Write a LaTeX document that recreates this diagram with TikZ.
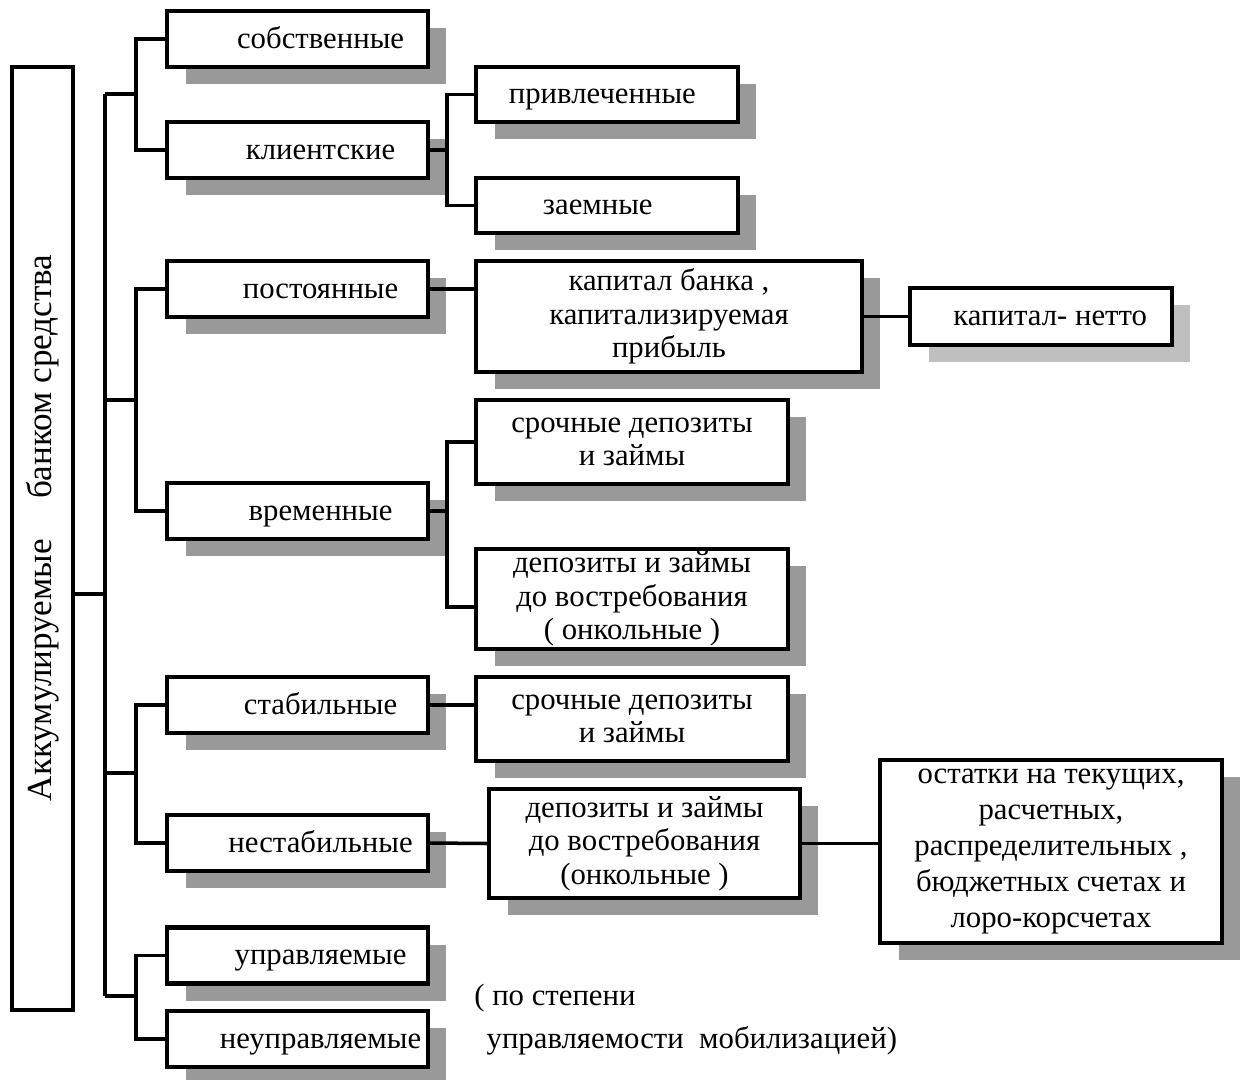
\documentclass[tikz,border=0pt]{standalone}
\usepackage{fontspec}
\setmainfont{Liberation Serif}
\usetikzlibrary{shadows}

\tikzset{
  frame/.style={draw, line width=2.5pt, fill=white, align=center, inner sep=1pt},
  box/.style={frame, drop shadow={shadow xshift=0.37cm, shadow yshift=-0.34cm, fill=black!40, opacity=1}},
  pale/.style={frame, drop shadow={shadow xshift=0.37cm, shadow yshift=-0.34cm, fill=black!25, opacity=1}},
  oneline/.style={text height=14pt, text depth=3.5pt},
  lbox/.style={box, oneline, minimum width=5.22cm, minimum height=1.12cm, execute at begin node=\hspace*{1.5em}},
  mbox/.style={box, minimum width=6.24cm},
  conn/.style={line width=2pt},
}

\begin{document}
\begin{tikzpicture}[x=0.02cm, y=-0.02cm, font=\fontsize{17.5}{19}\selectfont]
\useasboundingbox (0,0) rectangle (1241,1079);

% root
\node[frame, rotate=90, minimum width=18.86cm, minimum height=1.22cm, font=\fontsize{20}{22}\selectfont] (main) at (42.5,538.5)
  {\hspace*{0.6em}Аккумулируемые\hspace{0.9em} банком средства};

% first level
\node[lbox] (own) at (297.5,39) {собственные};
\node[lbox] (cli) at (297.5,150) {клиентские};
\node[lbox] (perm) at (297.5,289) {постоянные};
\node[lbox] (temp) at (297.5,511) {временные};
\node[lbox] (stab) at (297.5,705) {стабильные};
\node[lbox] (unst) at (297.5,843) {нестабильные};
\node[lbox] (ctrl) at (297.5,955.5) {управляемые};
\node[lbox] (unctrl) at (297.5,1039) {неуправляемые};

% second level
\node[box, oneline, minimum width=5.24cm, minimum height=1.1cm] (attr) at (607,94.5) {привлеченные\hspace{0.3em}};
\node[box, oneline, minimum width=5.24cm, minimum height=1.1cm] (borr) at (607,205.5) {заемные\hspace{0.6em}};
\node[box, minimum width=7.72cm, minimum height=2.22cm] (cap) at (669,316.5)
  {капитал банка ,\\капитализируемая\\прибыль};
\node[pale, oneline, minimum width=5.24cm, minimum height=1.14cm] (net) at (1041,316.5) {\hspace{0.6em}капитал- нетто};
\node[mbox, minimum height=1.68cm] (dep1) at (632,442) {срочные депозиты\\и займы};
\node[mbox, minimum height=2.0cm, inner sep=0pt] (dem1) at (632,599)
  {депозиты и займы\\до востребования\\( онкольные )};
\node[mbox, minimum height=1.68cm] (dep2) at (632,719) {срочные депозиты\\и займы};
\node[box, minimum width=6.22cm, minimum height=2.18cm] (dem2) at (644.5,843.5)
  {депозиты и займы\\до востребования\\(онкольные )};
\node[box, minimum width=6.84cm, minimum height=3.66cm, font=\fontsize{17.5}{20.5}\selectfont] (rest) at (1051,851.5)
  {остатки на текущих,\\расчетных,\\распределительных ,\\бюджетных счетах и\\лоро-корсчетах};

\node[anchor=north west, align=left, inner sep=0pt, font=\fontsize{17.5}{24.5}\selectfont] (note) at (474,984)
  {( по степени\\\hspace*{0.4em}управляемости\ \ мобилизацией)};

% trunk
\coordinate (t0) at (105,594);
\coordinate (t1) at (105,94);
\coordinate (t4) at (105,996);
\coordinate (b1) at (136,94);
\coordinate (b2) at (136,400);
\coordinate (b3) at (136,773);
\coordinate (b4) at (136,996);
\draw[conn] (main.south |- t0) -- (t0);
\draw[conn] (t1) -- (t4);
\draw[conn] (t1) -- (b1);
\draw[conn] (t0 |- b2) -- (b2);
\draw[conn] (t0 |- b3) -- (b3);
\draw[conn] (t4) -- (b4);
\draw[conn] (own.west) -| (b1) |- (cli.west);
\draw[conn] (perm.west) -| (b2) |- (temp.west);
\draw[conn] (stab.west) -| (b3) |- (unst.west);
\draw[conn] (ctrl.west) -| (b4) |- (unctrl.west);

% right side
\coordinate (j1) at (447,150);
\coordinate (j2) at (447,511);
\draw[conn] (cli.east) -- (j1);
\draw[conn] (attr.west) -| (j1) |- (borr.west);
\draw[conn] (perm.east) -- (perm.east -| cap.west);
\draw[conn] (cap.east) -- (net.west);
\draw[conn] (temp.east) -- (j2);
\draw[conn] (dep1.west) -| (j2) |- ([yshift=-0.16cm]dem1.west);
\draw[conn] (stab.east) -- (stab.east -| dep2.west);
\draw[conn] (unst.east) -- (dem2.west);
\draw[conn] (dem2.east) -- (dem2.east -| rest.west);
\end{tikzpicture}
\end{document}
